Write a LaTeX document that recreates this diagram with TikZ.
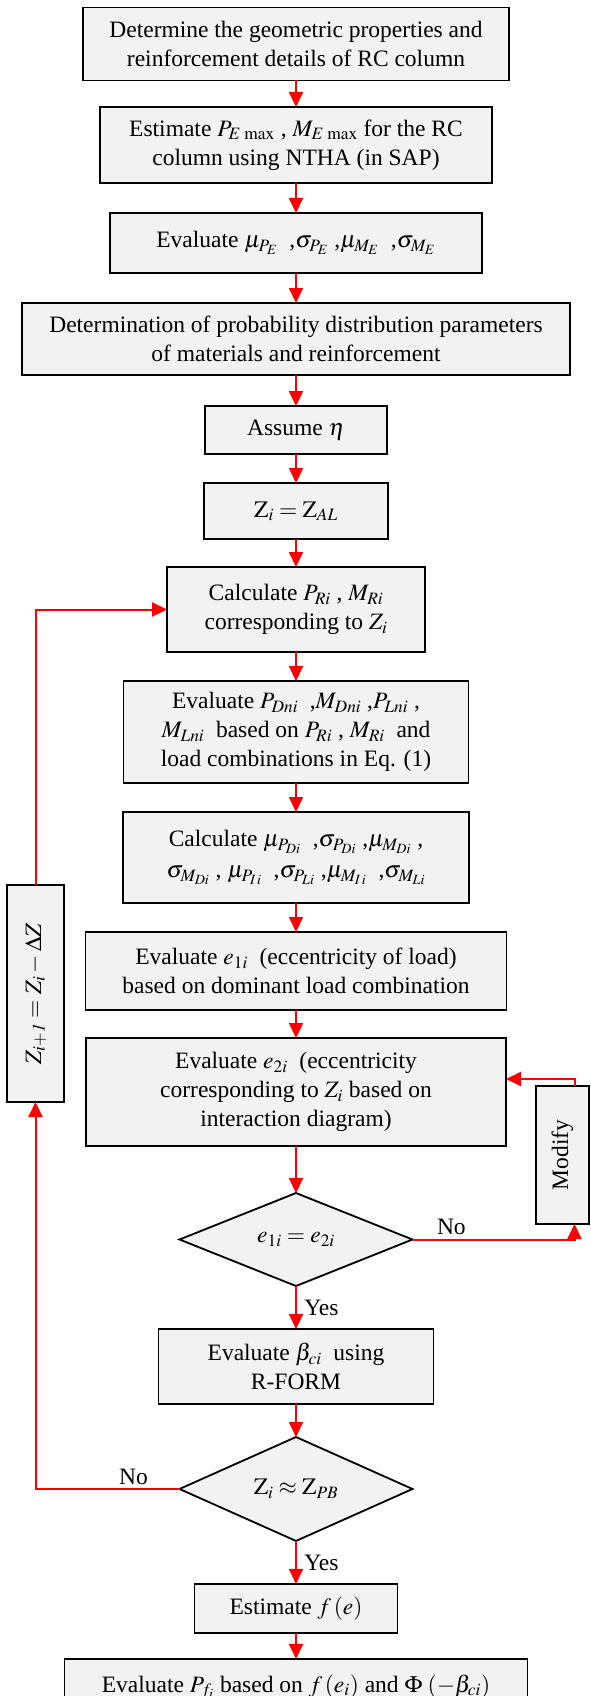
\documentclass[tikz,border=0pt]{standalone}
\usepackage{mathptmx}
\usepackage{fontspec}
\setmainfont{Liberation Serif}
\usepackage{tikz}
\usepackage{xcolor}
\usetikzlibrary{arrows.meta, positioning, shapes.geometric}

\definecolor{boxfill}{RGB}{242,242,242}
\tikzset{
    >={Triangle[length=15pt,width=14pt]},
    block/.style={draw, line width=1.8pt, fill=boxfill, align=center, inner sep=2pt, outer sep=0pt,
        font=\fontsize{23.5}{29}\selectfont},
    check/.style={diamond, draw, line width=1.8pt, fill=boxfill, inner sep=0pt, outer sep=0pt,
        minimum width=233pt, minimum height=93pt, font=\fontsize{23.5}{29}\selectfont},
    flow/.style={draw=red, line width=2pt},
    lbl/.style={font=\fontsize{23.5}{29}\selectfont}
}

\begin{document}
\begin{tikzpicture}
            \useasboundingbox (0,0) rectangle (591pt,-1696pt);

            \node[block, minimum width=426pt, minimum height=73pt] (geom) at (296pt,-44pt)
                {Determine the geometric properties and\\ reinforcement details of RC column};
            \node[block, below=26.5pt of geom, minimum width=392pt, minimum height=76pt] (emax)
                {Estimate $P_{E\,\max}$ , $M_{E\,\max}$ for the RC\\ column using NTHA (in SAP)};
            \node[block, below=30pt of emax, minimum width=372pt, minimum height=60pt] (muE)
                {Evaluate $\mu_{P_E}$\ \ ,$\sigma_{P_E}$ ,$\mu_{M_E}$\ \ ,$\sigma_{M_E}$};
            \node[block, below=30pt of muE, minimum width=548pt, minimum height=72pt] (dist)
                {Determination of probability distribution parameters\\ of materials and reinforcement};
            \node[block, below=31pt of dist, minimum width=182pt, minimum height=48pt] (eta)
                {Assume $\eta$};
            \node[block, below=29pt of eta, minimum width=184pt, minimum height=56pt] (zal)
                {$\mathrm{Z}_i = \mathrm{Z}_{AL}$};
            \node[block, below=28pt of zal, minimum width=258pt, minimum height=85pt] (calcR)
                {Calculate $P_{Ri}$ , $M_{Ri}$\\ corresponding to $Z_i$};
            \node[block, below=29pt of calcR, minimum width=345pt, minimum height=102pt] (loads)
                {Evaluate $P_{Dni}$\ \ ,$M_{Dni}$ ,$P_{Lni}$ ,\\ $M_{Lni}$\ \ based on $P_{Ri}$ , $M_{Ri}$\ \ and\\ load combinations in Eq. (1)};
            \node[block, below=29pt of loads, minimum width=346pt, minimum height=91pt] (stats)
                {Calculate $\mu_{P_{Di}}$\ \ ,$\sigma_{P_{Di}}$ ,$\mu_{M_{Di}}$ ,\\[2pt]
                 $\sigma_{M_{Di}}$ , $\mu_{P_{I\,i}}$\ \ ,$\sigma_{P_{Li}}$ ,$\mu_{M_{I\,i}}$\ \ ,$\sigma_{M_{Li}}$};
            \node[block, below=29pt of stats, minimum width=421pt, minimum height=78pt] (ecc1)
                {Evaluate $e_{1i}$\ \ (eccentricity of load)\\ based on dominant load combination};
            \node[block, below=28pt of ecc1, minimum width=420pt, minimum height=108pt] (ecc2)
                {Evaluate $e_{2i}$\ \ (eccentricity\\ corresponding to $Z_i$ based on\\ interaction diagram)};
            \node[check, below=47pt of ecc2] (check1) {$e_{1i} = e_{2i}$};
            \node[block, below=43pt of check1, minimum width=275pt, minimum height=75pt] (beta)
                {Evaluate $\beta_{ci}$\ \ using\\ R-FORM};
            \node[check, below=33pt of beta] (check2) {$\mathrm{Z}_i \approx \mathrm{Z}_{PB}$};
            \node[block, below=43pt of check2, minimum width=203pt, minimum height=49pt] (fe)
                {Estimate $f\,(e)$};
            \node[block, below=26pt of fe, minimum width=463pt, minimum height=56pt] (pf)
                {Evaluate $P_{f_i}$ based on $f\,(e_i)$ and $\Phi\;(-\beta_{ci})$};

            % side boxes of the two loops
            \node[block, rotate=90, minimum width=217pt, minimum height=57pt] (zupd) at (35.5pt,-993.5pt)
                {$Z_{i+\mathit{1}} = Z_i - \Delta Z$};
            \node[block, rotate=90, minimum width=138pt, minimum height=53pt] (modify) at (562.5pt,-1155pt)
                {Modify};

            % main line
            \draw[flow, ->] (geom) -- (emax);
            \draw[flow, ->] (emax) -- (muE);
            \draw[flow, ->] (muE) -- (dist);
            \draw[flow, ->] (dist) -- (eta);
            \draw[flow, ->] (eta) -- (zal);
            \draw[flow, ->] (zal) -- (calcR);
            \draw[flow, ->] (calcR) -- (loads);
            \draw[flow, ->] (loads) -- (stats);
            \draw[flow, ->] (stats) -- (ecc1);
            \draw[flow, ->] (ecc1) -- (ecc2);
            \draw[flow, ->] (ecc2) -- (check1);
            \draw[flow, ->] (check1) -- node[lbl, right=4pt, pos=0.5] {Yes} (beta);
            \draw[flow, ->] (beta) -- (check2);
            \draw[flow, ->] (check2) -- node[lbl, right=4pt, pos=0.5] {Yes} (fe);
            \draw[flow, ->] (fe) -- (pf);

            % loops
            \draw[flow, ->] (check1.east) -| node[lbl, above, pos=0.12] {No} ([xshift=12pt]modify.west);
            \draw[flow, ->] ([xshift=12pt]modify.east) |- ([yshift=13pt]ecc2.east);
            \draw[flow, ->] (check2.west) -| node[lbl, above, pos=0.16] {No} (zupd.west);
            \draw[flow, ->] (zupd.east) |- (calcR.west);

        \end{tikzpicture}
\end{document}
